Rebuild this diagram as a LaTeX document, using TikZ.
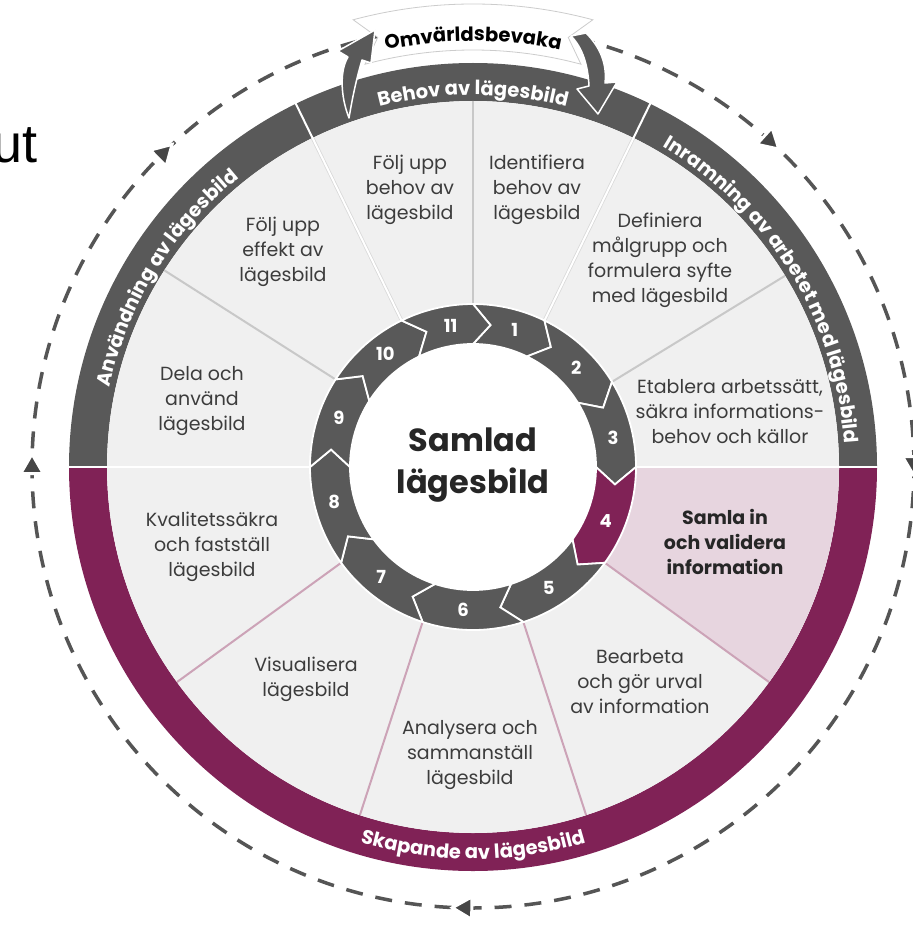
\documentclass[tikz,border=0pt]{standalone}
\usepackage{fontspec}
\setmainfont{Poppins}
\newfontfamily\arialfont{Liberation Sans}
\usetikzlibrary{decorations.text}
\definecolor{ringgray}{RGB}{89,89,89}
\definecolor{ringpurple}{RGB}{128,34,86}
\definecolor{sectorfill}{RGB}{240,240,240}
\definecolor{pinkfill}{RGB}{231,213,223}
\definecolor{pinkline}{RGB}{204,163,183}
\definecolor{sepgray}{RGB}{200,200,200}
\definecolor{txtgray}{RGB}{60,60,60}
\definecolor{dashgray}{RGB}{85,85,85}
\definecolor{trigray}{RGB}{70,70,70}
\newcommand\ringfont{\fontsize{19.5}{19.5}\selectfont\bfseries}
\newcommand\chev[3]{%
 \filldraw[fill=#3, draw=white, line width=1.8pt, line join=miter]
  (#1:163) arc[start angle=#1, end angle=#2, radius=163pt] -- ({#2-7}:143) -- (#2:123)
  arc[start angle=#2, end angle=#1, radius=123pt] -- ({#1-7}:143) -- cycle;}
\begin{document}
\begin{tikzpicture}[x=1pt,y=1pt,
  sectortext/.style={text=txtgray, align=center, font=\fontsize{19}{25}\selectfont},
  numtext/.style={text=white, font=\fontsize{18}{18}\selectfont\bfseries},
  sepline/.style={sepgray, line width=2pt},
  pline/.style={pinkline, line width=2pt},
  arrowshape/.style={fill=ringgray, draw=white, line width=1.5pt, line join=round}]
\useasboundingbox (0,-925) rectangle (912,0);
\fill[white] (0,-925) rectangle (912,0);

\node[anchor=base east, inner sep=0pt, font=\arialfont\fontsize{54}{54}\selectfont] (ut) at (38,-163) {ut};

\begin{scope}[shift={(473,-467)}]
% dashed outer circle
\draw[dashgray, line width=3.5pt, dash pattern=on 17pt off 13pt] (0,0) circle[radius=441pt];
\foreach \a in {134.7,47.8,180,-91,0.5} {
  \begin{scope}[shift={(\a:441)}, rotate=\a-90]
    \filldraw[fill=trigray, draw=white, line width=3pt, line join=miter] (0:13) -- (120:13) -- (240:13) -- cycle;
  \end{scope}
}
% outer rings
\fill[ringgray] (0:366) arc[start angle=0,end angle=180,radius=366pt] -- (180:404) arc[start angle=180,end angle=0,radius=404pt] -- cycle;
\fill[ringpurple] (180:366) arc[start angle=180,end angle=360,radius=366pt] -- (0:404) arc[start angle=360,end angle=180,radius=404pt] -- cycle;
% sectors
\fill[sectorfill] (0,0) circle[radius=366pt];
\fill[pinkfill] (0:163) -- (0:366) arc[start angle=0,end angle=-36,radius=366pt] -- (-36:163) -- cycle;
\foreach \a in {90,31.5,147.5} \draw[sepline] (\a:163) -- (\a:366);
\foreach \a in {-36,-72,-108,-144} \draw[pline] (\a:163) -- (\a:366);
\foreach \a in {64,116} {\draw[sepgray!70, line width=3.5pt] (\a:163) -- (\a:366); \draw[white, line width=2pt] (\a:163) -- (\a:405);}
\foreach \a in {0,180} \draw[white, line width=2.5pt] (\a:163) -- (\a:405);
% hub
\fill[white] (0,0) circle[radius=123pt];
\chev{90}{64}{ringgray}
\chev{64}{31.5}{ringgray}
\chev{31.5}{0}{ringgray}
\chev{0}{-36}{ringpurple}
\chev{-36}{-72}{ringgray}
\chev{-72}{-108}{ringgray}
\chev{-108}{-144}{ringgray}
\chev{-144}{-180}{ringgray}
\chev{180}{147.5}{ringgray}
\chev{147.5}{116}{ringgray}
\chev{116}{90}{ringgray}
\node[numtext] (n1) at (73:143) {1};
\node[numtext] (n2) at (43.75:143) {2};
\node[numtext] (n3) at (11.75:143) {3};
\node[numtext] (n4) at (-22:143) {4};
\node[numtext] (n5) at (-58:143) {5};
\node[numtext] (n6) at (-94:143) {6};
\node[numtext] (n7) at (-130:143) {7};
\node[numtext] (n8) at (-166:143) {8};
\node[numtext] (n9) at (159.75:143) {9};
\node[numtext] (n10) at (127.75:143) {10};
\node[numtext] (n11) at (99:143) {11};
\node[font=\fontsize{32}{42}\selectfont\bfseries, text=black!85, align=center] (hub) at (0,2) {Samlad\\lägesbild};
% sector texts
\node[sectortext] (s1) at (64,277) {Identifiera\\behov av\\lägesbild};
\node[sectortext] (s2) at (187,207) {Definiera\\målgrupp och\\formulera syfte\\med lägesbild};
\node[sectortext] (s3) at (257,55) {Etablera arbetssätt,\\säkra informations-\\behov och källor};
\node[sectortext, font=\fontsize{19}{25}\selectfont\bfseries, text=black!85] (s4) at (252,-75) {Samla in\\och validera\\information};
\node[sectortext] (s5) at (167,-215) {Bearbeta\\och gör urval\\av information};
\node[sectortext] (s6) at (-3,-288) {Analysera och\\sammanställ\\lägesbild};
\node[sectortext] (s7) at (-167,-212) {Visualisera\\lägesbild};
\node[sectortext] (s8) at (-261,-80) {Kvalitetssäkra\\och fastställ\\lägesbild};
\node[sectortext] (s9) at (-271,66) {Dela och\\använd\\lägesbild};
\node[sectortext] (s10) at (-190,215) {Följ upp\\effekt av\\lägesbild};
\node[sectortext] (s11) at (-63,277) {Följ upp\\behov av\\lägesbild};
% ring texts
\path[decorate, decoration={text along path, text align=center, text color=white, text={|\ringfont|Behov av lägesbild}}] (116:372) arc[start angle=116, end angle=64, radius=372pt];
\path[decorate, decoration={text along path, text align=center, text color=white, text={|\ringfont|Användning av lägesbild}}] (180:372) arc[start angle=180, end angle=116.6, radius=372pt];
\path[decorate, decoration={text along path, text align=center, text color=white, text={|\ringfont|Inramning av arbetet med lägesbild}}] (64:372) arc[start angle=64, end angle=-1, radius=372pt];
\path[decorate, decoration={text along path, text align=center, text color=white, text={|\ringfont|Skapande av lägesbild}}] (-135:392) arc[start angle=-135, end angle=-45, radius=392pt];
% banner
\filldraw[fill=white, draw=gray!40, line width=0.8pt] (105:463) arc[start angle=105,end angle=75,radius=463pt] -- (77.5:440) -- (75:417) arc[start angle=75, end angle=105, radius=417pt] -- (102.5:440) -- cycle;
\path[decorate, decoration={text along path, text align=center, text color=black, text={|\fontsize{19.5}{19.5}\selectfont\bfseries|Omvärldsbevaka}}] (106:426) arc[start angle=106, end angle=74, radius=426pt];
\end{scope}
% curved arrows
\filldraw[arrowshape] (349,-118) .. controls (340,-95) and (340,-70) .. (348,-57) -- (338,-51) -- (375,-30) -- (371,-63) -- (362,-60) .. controls (356,-80) and (352,-100) .. (349,-118) -- cycle;
\filldraw[arrowshape] (571,-36) -- (586,-33) .. controls (601,-48) and (607,-65) .. (605,-83) -- (617,-82) -- (598,-114) -- (577,-89) -- (589,-86) .. controls (588,-66) and (583,-48) .. (571,-36) -- cycle;
\end{tikzpicture}
\end{document}
